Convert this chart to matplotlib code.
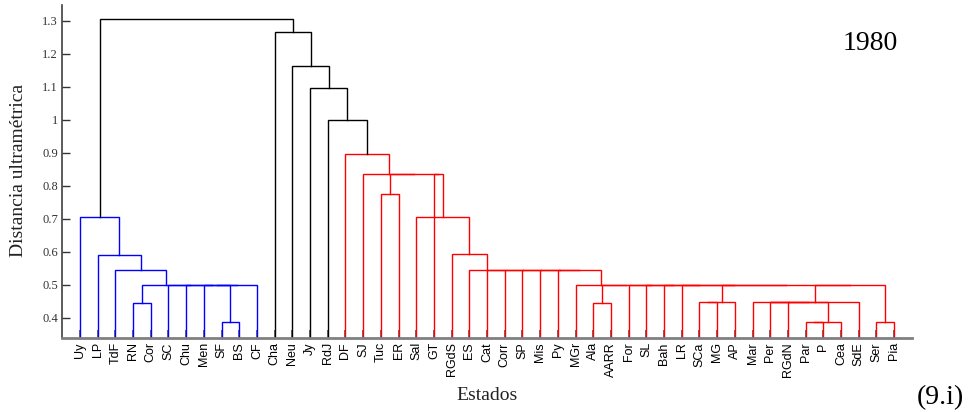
import numpy as np
import matplotlib
matplotlib.use('Agg')
import matplotlib.pyplot as plt

# leaf order as shown on the x axis
leaves = ['Uy', 'LP', 'TdF', 'RN', 'Cor', 'SC', 'Chu', 'Men', 'SF', 'BS', 'CF',
          'Cha', 'Neu', 'Jy', 'RdJ', 'DF', 'SJ', 'Tuc', 'ER', 'Sal', 'GT',
          'RGdS', 'ES', 'Cat', 'Corr', 'SP', 'Mis', 'Py', 'MGr', 'Ala', 'AARR',
          'For', 'SL', 'Bah', 'LR', 'SCa', 'MG', 'AP', 'Mar', 'Per', 'RGdN',
          'Par', 'P', 'Cea', 'SdE', 'Ser', 'Pia']

# merges: (node, left child, right child, ultrametric distance)
links_south = [
    ('a1', 'RN', 'Cor', 0.446),
    ('a2', 'SF', 'BS', 0.387),
    ('a3', 'Men', 'a2', 0.500),
    ('a4', 'a3', 'CF', 0.500),
    ('a5', 'Chu', 'a4', 0.500),
    ('a6', 'SC', 'a5', 0.500),
    ('a7', 'a1', 'a6', 0.500),
    ('a8', 'TdF', 'a7', 0.546),
    ('a9', 'LP', 'a8', 0.591),
    ('a10', 'Uy', 'a9', 0.705),
]
links_north = [
    ('r1', 'Tuc', 'ER', 0.775),
    ('r2', 'Ala', 'AARR', 0.446),
    ('r3', 'SCa', 'MG', 0.448),
    ('r4', 'r3', 'AP', 0.448),
    ('r5', 'Par', 'P', 0.387),
    ('r6', 'r5', 'Cea', 0.387),
    ('r7', 'RGdN', 'r6', 0.448),
    ('r8', 'Per', 'r7', 0.448),
    ('r9', 'Mar', 'r8', 0.448),
    ('r10', 'r9', 'SdE', 0.448),
    ('r11', 'Ser', 'Pia', 0.387),
    ('r12', 'r10', 'r11', 0.500),
    ('r13', 'r4', 'r12', 0.500),
    ('r14', 'LR', 'r13', 0.500),
    ('r15', 'Bah', 'r14', 0.500),
    ('r16', 'SL', 'r15', 0.500),
    ('r17', 'For', 'r16', 0.500),
    ('r18', 'r2', 'r17', 0.500),
    ('r19', 'MGr', 'r18', 0.500),
    ('r20', 'Py', 'r19', 0.546),
    ('r21', 'Mis', 'r20', 0.546),
    ('r22', 'SP', 'r21', 0.546),
    ('r23', 'Corr', 'r22', 0.546),
    ('r24', 'Cat', 'r23', 0.546),
    ('r25', 'ES', 'r24', 0.546),
    ('r26', 'RGdS', 'r25', 0.592),
    ('r27', 'Sal', 'r26', 0.706),
    ('r28', 'GT', 'r27', 0.837),
    ('r29', 'r1', 'r28', 0.837),
    ('r30', 'SJ', 'r29', 0.837),
    ('r31', 'DF', 'r30', 0.895),
]
links_top = [
    ('k1', 'RdJ', 'r31', 1.000),
    ('k2', 'Jy', 'k1', 1.096),
    ('k3', 'Neu', 'k2', 1.163),
    ('k4', 'Cha', 'k3', 1.266),
    ('k5', 'a10', 'k4', 1.304),
]
links = links_south + links_north + links_top
cluster_colors = ['#0000ff', '#ff0000']

# positions: leaves at 1..n, node at the mean of its children
xpos = {name: i + 1 for i, name in enumerate(leaves)}
hgt = {name: 0.0 for name in leaves}
parent = {}
for node, l, r, h in links:
    xpos[node] = (xpos[l] + xpos[r]) / 2
    hgt[node] = h
    parent[l] = node
    parent[r] = node

# matlab style colouring: clusters below 0.7*max distance
thr = 0.7 * max(h for _, _, _, h in links)
roots = [n for n, _, _, h in links
         if h < thr and (n not in parent or hgt[parent[n]] >= thr)]
roots.sort(key=lambda n: xpos[n])
color = {n: cluster_colors[i % len(cluster_colors)] for i, n in enumerate(roots)}
for node, l, r, h in links[::-1]:
    if node in color:
        continue
    if h < thr:
        color[node] = color[parent[node]]
    else:
        color[node] = 'black'

fig = plt.figure(figsize=(9.69, 4.12), dpi=100)
ax = fig.add_axes([0.0643, 0.1796, 0.8767, 0.8084])

for node, l, r, h in links:
    ax.plot([xpos[l], xpos[l], xpos[r], xpos[r]], [hgt[l], h, h, hgt[r]],
            color=color[node], lw=1.0, solid_joinstyle='miter')

ax.set_xlim(0, len(leaves) + 1)
ax.set_ylim(0.339, 1.348)
ax.set_xticks(np.arange(1, len(leaves) + 1))
ax.set_xticklabels(leaves, rotation=90, family='Liberation Sans', fontsize=9)
yt = np.round(np.arange(0.4, 1.31, 0.1), 1)
ax.set_yticks(yt)
ax.set_yticklabels(['1' if v == 1 else f'{v:g}' for v in yt],
                   family='Liberation Serif', fontsize=9, color='#333333')
ax.tick_params(axis='x', direction='in', length=6, width=1.2, color='#555555', pad=3)
ax.tick_params(axis='y', direction='in', length=6, width=1.0, color='#333333', pad=3)
for s in ['top', 'right']:
    ax.spines[s].set_visible(False)
ax.spines['left'].set_color('#404040')
ax.spines['left'].set_linewidth(1.2)
ax.spines['bottom'].set_color('#808080')
ax.spines['bottom'].set_linewidth(2)

fig.text(487 / 969, 1 - 395 / 412, 'Estados', family='Liberation Serif',
         fontsize=14, ha='center', va='center', color='#222222')
fig.text(19 / 969, 1 - 170 / 412, 'Distancia ultramétrica', family='Liberation Serif',
         fontsize=14, rotation=90, ha='center', va='center', color='#222222')
fig.text(870 / 969, 1 - 44 / 412, '1980', family='Liberation Serif',
         fontsize=20, ha='center', va='center')
fig.text(940 / 969, 1 - 398 / 412, '(9.i)', family='Liberation Serif',
         fontsize=20, ha='center', va='center')

plt.savefig('out.png', dpi=100)
